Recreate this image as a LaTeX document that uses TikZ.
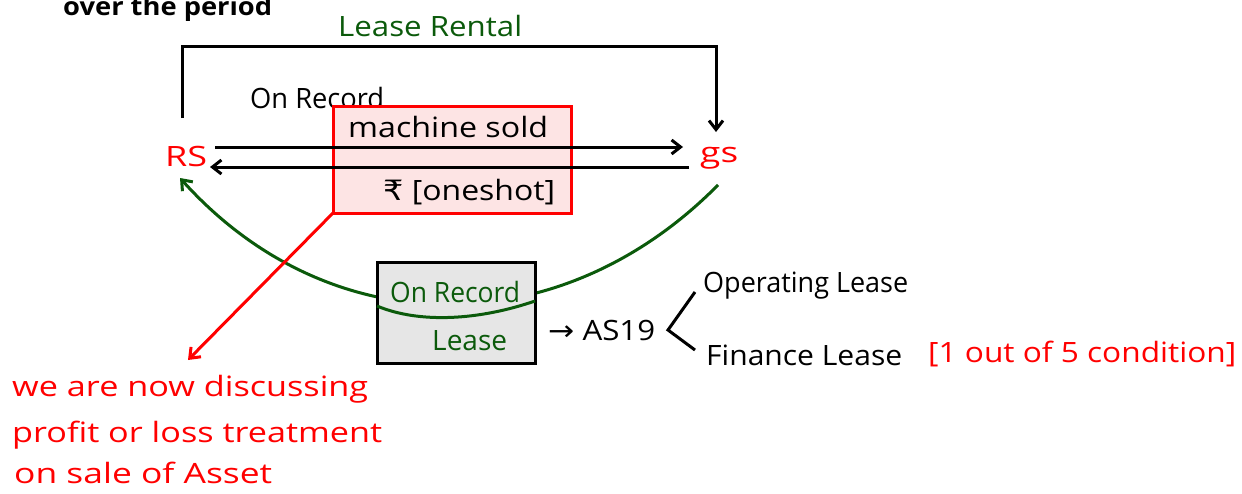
\documentclass[tikz,border=0pt]{standalone}
\usepackage{fontspec}
\setmainfont{Open Sans}
\newfontfamily\symf{DejaVu Sans}
\usetikzlibrary{arrows.meta}
\definecolor{dgreen}{HTML}{0B5A0B}
\definecolor{pinkfill}{HTML}{FDE4E4}
\definecolor{grayfill}{HTML}{E6E6E6}
\newcommand{\hw}[2]{\resizebox{#1pt}{\height}{#2}}
\tikzset{
  hand/.style={font=\fontsize{28}{32}\selectfont, inner sep=0pt, anchor=base west},
  blk/.style={line width=3pt, black},
  tip/.style={-{Straight Barb[length=9pt,width=14pt,line width=3pt]}},
}
\begin{document}
\begin{tikzpicture}[x=1pt,y=-1pt]
\useasboundingbox (0,0) rectangle (1242,493);
% header text (clipped at top, as in the reference)
\node[font=\bfseries\fontsize{25}{28}\selectfont, anchor=base west, inner sep=0pt] (hdr) at (63,15) {\hw{209}{over the period}};
% top lease rental connector
\draw[blk, tip] (182,118) -- (182,46) -- (716,46) -- (716,132);
% labels
\node[hand, text=dgreen] (lr) at (338,36) {\hw{184}{Lease Rental}};
\node[hand] (onrec) at (250,108) {\hw{134}{On Record}};
% red box
\node[draw=red, line width=3pt, fill=pinkfill, minimum width=238pt, minimum height=107pt, inner sep=0pt] (sold) at (452,159.5) {};
\node[hand] (ms) at (348,137) {\hw{200}{machine sold}};
\node[hand] (rs1) at (383,200) {\hw{172}{{\symf ₹} [oneshot]}};
% RS / gs
\node[hand, text=red] (RS) at (165,166) {\hw{42}{RS}};
\node[hand, text=red] (GS) at (700,162) {\hw{38}{gs}};
% arrows between
\coordinate (a1s) at (215,147);
\coordinate (a1e) at (683,147);
\coordinate (a2s) at (689,167);
\coordinate (a2e) at (210,167);
\draw[blk, tip] (a1s) -- (a1e);
\draw[blk, tip] (a2s) -- (a2e);
% green curve
\draw[dgreen, line width=3pt, -{Straight Barb[length=9pt,width=14pt,line width=3pt]}]
  (718,185) .. controls (560,345) and (330,345) .. (180,178);
% red pointer
\draw[red, line width=3pt, -{Straight Barb[length=9pt,width=14pt,line width=3pt]}] (333,213) -- (188,360);
% gray box
\node[draw=black, line width=3pt, fill=grayfill, minimum width=158pt, minimum height=101pt, inner sep=0pt] (lease) at (456,312.5) {};
\node[hand, text=dgreen] (or2) at (390,302) {\hw{130}{On Record}};
\node[hand, text=dgreen] (ls) at (432,350) {\hw{75}{Lease}};
\draw[dgreen, line width=3pt] (377,306) .. controls (420,324) and (480,320) .. (535,301);
% AS19
\node[hand] (as) at (548,340) {\hw{107}{{\symf →} AS19}};
\draw[line width=3pt] (695,292) -- (668,330) -- (695,350);
\node[hand] (op) at (703,292) {\hw{205}{Operating Lease}};
\node[hand] (fl) at (706,365) {\hw{196}{Finance Lease}};
\node[hand, text=red] (cond) at (928,362) {\hw{308}{[1 out of 5 condition]}};
% red note
\node[hand, text=red] (n1) at (12,396) {\hw{356}{we are now discussing}};
\node[hand, text=red] (n2) at (12,442) {\hw{370}{profit or loss treatment}};
\node[hand, text=red] (n3) at (14,483) {\hw{258}{on sale of Asset}};
\end{tikzpicture}
\end{document}
